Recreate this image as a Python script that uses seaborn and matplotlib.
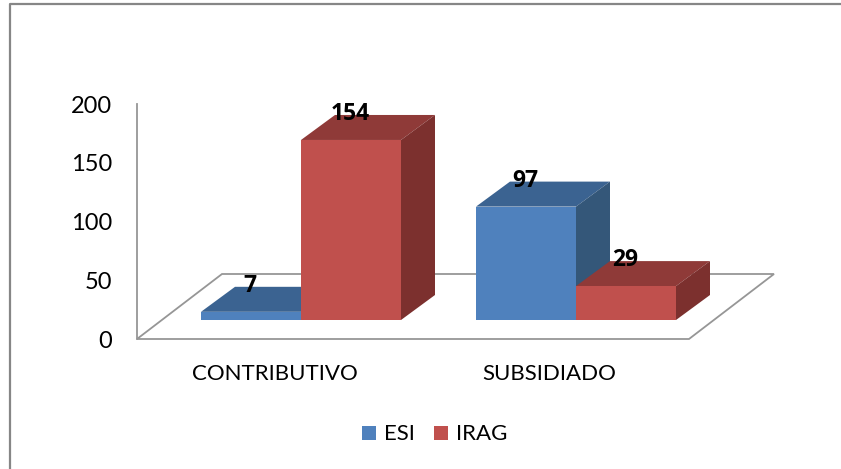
import matplotlib
matplotlib.use('Agg')
import matplotlib.pyplot as plt
from matplotlib.patches import Polygon, Rectangle
import pandas as pd
import seaborn as sns

categories = ['CONTRIBUTIVO', 'SUBSIDIADO']
esi = [7, 97]
irag = [154, 29]
series_names = ['ESI', 'IRAG']
y_ticks = [0, 50, 100, 150, 200]

W, H = 841, 469
FONT = 'Lato'
GREY = '#969696'
colors = {'ESI': '#4f81bd', 'IRAG': '#c0504d'}
tops = {'ESI': '#3b6391', 'IRAG': '#8f3a38'}
sides = {'ESI': '#345779', 'IRAG': '#7c302e'}

# 3d look in pixels
DX, DY = 34, 25
X0, X1 = 137, 689   # floor front edge
Y0, Y200 = 339, 104 # value axis
BASE = 320          # where the bars stand
PX_PER_UNIT = 1.169
CAT_0, CAT_STEP = 301, 275

df = pd.DataFrame({
    'cat': categories * 2,
    'serie': ['ESI'] * 2 + ['IRAG'] * 2,
    'val': esi + irag,
})

sns.set_theme(style='white')
plt.rcParams['font.family'] = [FONT, 'DejaVu Sans']

fig = plt.figure(figsize=(W / 100, H / 100), dpi=100)
rect = [X0 / W, 1 - Y0 / H, (X1 - X0) / W, (Y0 - Y200) / H]


def px(x, y):
    return (x / W, 1 - y / H)


# frame of the chart: only left and top show in the picture
fig.add_artist(plt.Line2D([10 / W, 10 / W, 1], [0, 1 - 4 / H, 1 - 4 / H], color='#868686', lw=1.6,
                          transform=fig.transFigure))

# floor
floor = [px(X0, Y0), px(X1, Y0), px(X1 + 85, Y0 - 65), px(X0 + 85, Y0 - 65)]
fig.add_artist(Polygon(floor, closed=True, fc='white', ec=GREY, lw=1.3, transform=fig.transFigure, zorder=1))

# axis with the ticks and category names
ax_lab = fig.add_axes(rect)
ax_lab.set_zorder(2)
ax_lab.patch.set_visible(False)
ax_lab.set_ylim(0, 200)
ax_lab.set_xlim((X0 - 275) / 274, (X1 - 275) / 274)
ax_lab.set_yticks(y_ticks)
ax_lab.set_xticks(range(len(categories)))
ax_lab.set_xticklabels(categories)
ax_lab.tick_params(axis='y', labelsize=17, length=0, pad=18, colors='black')
ax_lab.tick_params(axis='x', labelsize=16, length=0, pad=18, colors='black')
for s in ['top', 'right', 'bottom']:
    ax_lab.spines[s].set_visible(False)
ax_lab.spines['left'].set_color(GREY)
ax_lab.spines['left'].set_linewidth(1.3)

# bars
ax = fig.add_axes(rect)
ax.set_zorder(3)
ax.patch.set_visible(False)
sns.barplot(data=df, x='cat', y='val', hue='serie', hue_order=series_names, order=categories,
            palette=colors, width=200 / CAT_STEP, gap=0, saturation=1, dodge=True,
            legend=False, errorbar=None, linewidth=0, ax=ax, zorder=3)
ax.set_xlim((X0 - CAT_0) / CAT_STEP, (X1 - CAT_0) / CAT_STEP)
ax.set_ylim((BASE - Y0) / PX_PER_UNIT, (BASE - Y200) / PX_PER_UNIT)
ax.axis('off')

# top and side faces, taken from the bars seaborn drew
bars = [b for b in ax.patches if b.get_width() > 0]
names = ['ESI'] * len(categories) + ['IRAG'] * len(categories)
for bar, name in zip(bars, names):
    (l, b_), (r, t) = ax.transData.transform([(bar.get_x(), 0), (bar.get_x() + bar.get_width(), bar.get_height())])
    order = 2 if name == 'ESI' else 2.5
    top = [(l, t), (r, t), (r + DX, t + DY), (l + DX, t + DY)]
    side = [(r, b_), (r, t), (r + DX, t + DY), (r + DX, b_ + DY)]
    ax.add_patch(Polygon(top, closed=True, fc=tops[name], ec='none', transform=None, zorder=order, clip_on=False))
    ax.add_patch(Polygon(side, closed=True, fc=sides[name], ec='none', transform=None, zorder=order, clip_on=False))
    # value sits on the back of the top face
    ax.text((l + r) / 2 - 1, t + 26, str(int(bar.get_height())), transform=None, ha='center', va='center',
            fontsize=16.5, fontweight='bold', family='Open Sans', color='black', zorder=6)

# legend
for x, name in [(362, 'ESI'), (434, 'IRAG')]:
    fig.add_artist(Rectangle(px(x, 440), 14 / W, 14 / H, fc=colors[name], ec='none', transform=fig.transFigure))
    fig.text((x + 22) / W, 1 - 434 / H, name, fontsize=16, va='center', ha='left', color='black')

fig.savefig('out.png', dpi=100)
